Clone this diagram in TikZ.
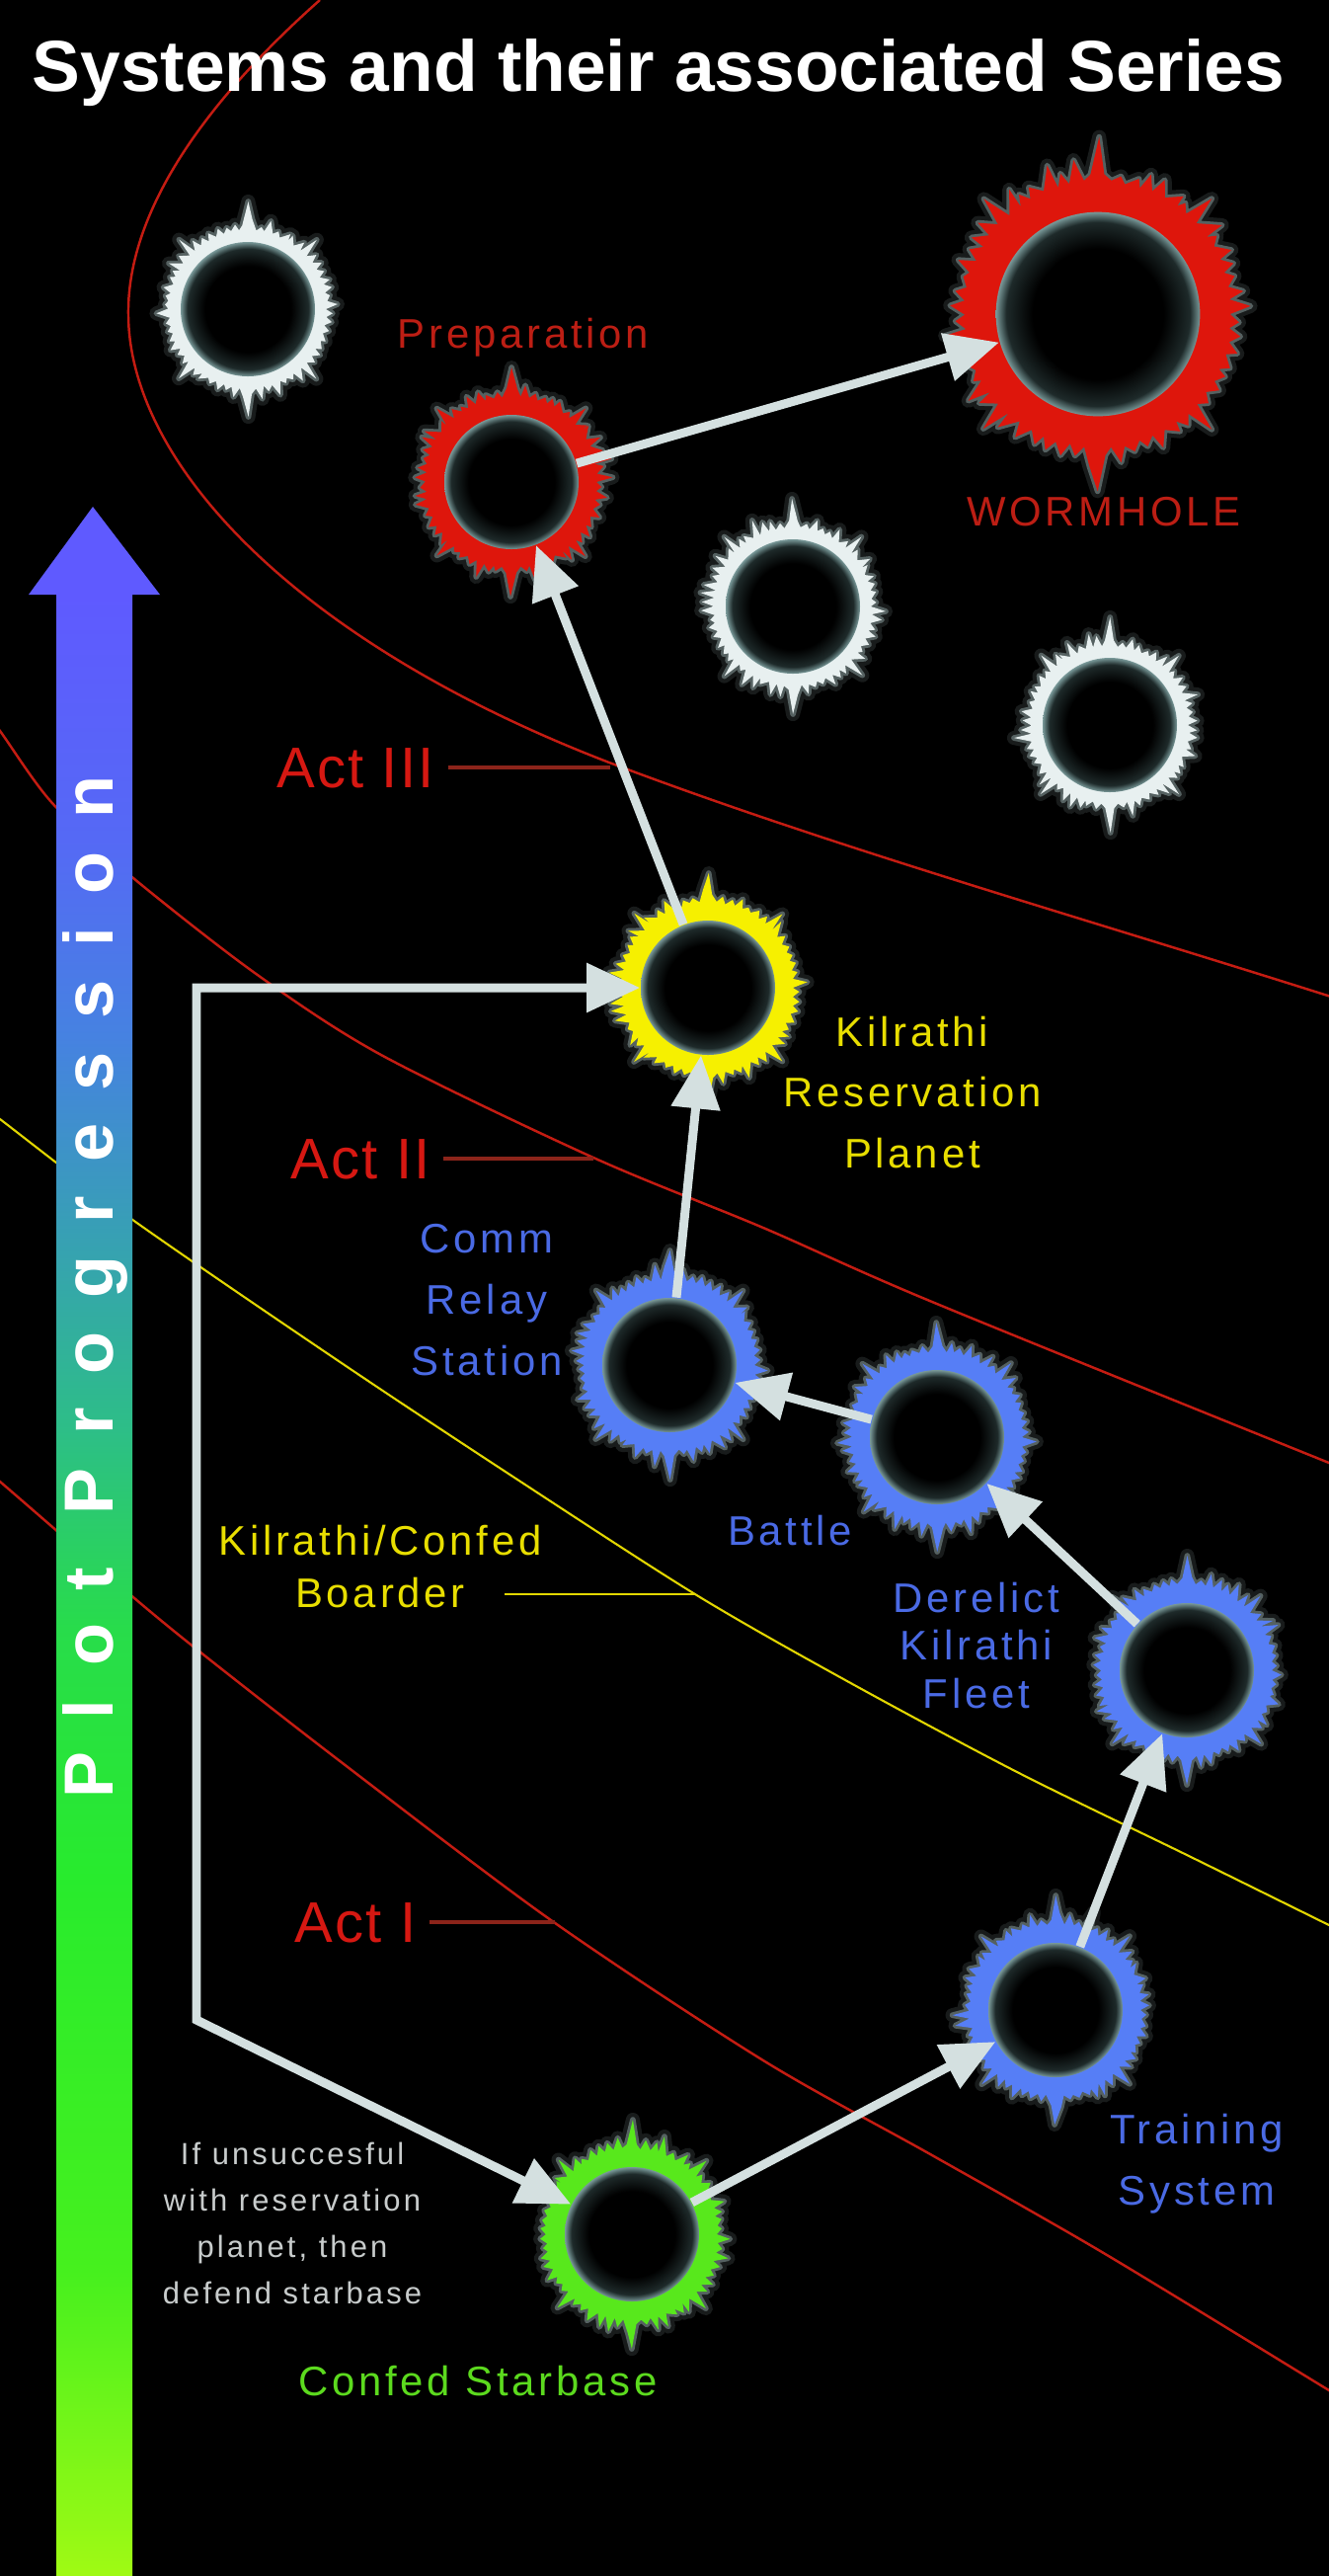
\documentclass[tikz,border=0pt]{standalone}
\usepackage{fontspec}
\setmainfont{Liberation Sans}
\newfontfamily\labelfont[LetterSpace=9]{Liberation Sans}
\newfontfamily\notefont[LetterSpace=10]{Liberation Sans}
\newfontfamily\actfont[LetterSpace=4]{Liberation Sans}
\newfontfamily\barfont[LetterSpace=48]{Liberation Sans}
\usetikzlibrary{arrows.meta}

\definecolor{ringred}{RGB}{222,22,12}
\definecolor{ringyellow}{RGB}{246,240,0}
\definecolor{ringblue}{RGB}{86,126,246}
\definecolor{ringgreen}{RGB}{88,232,28}
\definecolor{ringwhite}{RGB}{232,240,240}
\definecolor{halo}{RGB}{200,228,228}
\definecolor{corerim}{RGB}{120,152,152}
\definecolor{coredark}{RGB}{30,42,42}
\definecolor{orbitred}{RGB}{196,28,18}
\definecolor{orbityellow}{RGB}{226,214,0}
\definecolor{actred}{RGB}{214,24,18}
\definecolor{actmark}{RGB}{140,36,26}
\definecolor{linkgray}{RGB}{212,224,224}
\definecolor{lblred}{RGB}{188,30,20}
\definecolor{lblyellow}{RGB}{232,222,0}
\definecolor{lblblue}{RGB}{74,106,228}
\definecolor{lblgreen}{RGB}{92,218,30}
\definecolor{notegray}{RGB}{200,204,204}
\definecolor{bar0}{RGB}{160,250,20}
\definecolor{bar1}{RGB}{70,240,30}
\definecolor{bar2}{RGB}{40,235,45}
\definecolor{bar3}{RGB}{40,220,75}
\definecolor{bar4}{RGB}{45,190,135}
\definecolor{bar5}{RGB}{55,160,180}
\definecolor{bar6}{RGB}{70,130,225}
\definecolor{bar7}{RGB}{85,105,245}
\definecolor{bar8}{RGB}{95,90,255}

\pgfdeclareradialshading{coreglow}{\pgfpoint{0bp}{0bp}}{color(0bp)=(black); color(16bp)=(black); color(22.5bp)=(coredark); color(25bp)=(corerim); color(50bp)=(corerim)}
\pgfdeclareverticalshading{plotbar}{100bp}{color(0bp)=(bar0); color(25bp)=(bar0); color(32.7bp)=(bar1); color(42.6bp)=(bar2); color(48.9bp)=(bar3); color(53.9bp)=(bar4); color(58.8bp)=(bar5); color(63.8bp)=(bar6); color(68.8bp)=(bar7); color(75bp)=(bar8); color(100bp)=(bar8)}

\tikzset{systip/.tip={Triangle[length=5.4mm,width=4.8mm]}}

\newcommand\starsys[6]{%
  \begin{scope}[shift={#2},scale=#4]
    \pgfmathsetseed{#5}
    \path[fill=#3,
      preaction={draw=halo,line width=4pt,opacity=.12,line join=round},
      preaction={draw=halo,line width=1.6pt,opacity=.35,line join=round}]
      (0:#6) \foreach \ang in {3,6,...,357}{
        -- ({\ang+rnd-0.5}:{(\ang==90||\ang==270) ? #6+30 : ((\ang==45||\ang==135||\ang==225||\ang==315) ? #6+20 : (mod(\ang,6)==0 ? #6+2*rnd : #6+5+17*rnd*rnd))})
      } -- cycle;
    \shade[shading=coreglow] (0,0) circle (68);
  \end{scope}
  \node[sysnode,minimum size=#4*1.36cm] (#1) at #2 {};
}

\begin{document}
\begin{tikzpicture}[x=0.01cm,y=-0.01cm,
  sysnode/.style={circle,inner sep=0pt},
  syslabel/.style={font=\labelfont\fontsize{11.9}{17.6}\selectfont,align=center,inner sep=0pt},
  notelbl/.style={font=\notefont\fontsize{8.8}{13.4}\selectfont,align=center,inner sep=0pt,text=notegray},
  actlabel/.style={font=\actfont\fontsize{16.5}{20}\selectfont,text=actred,inner sep=0pt,anchor=base},
  actline/.style={draw=actmark,line width=1.1pt,shorten <=0.13cm},
  orbit/.style={draw=orbitred,line width=0.7pt},
  boarder/.style={draw=orbityellow,line width=0.6pt},
  link/.style={draw=linkgray,line width=2.55pt,-systip}]
\useasboundingbox (0,0) rectangle (1346,2608);
\fill[black] (0,0) rectangle (1346,2608);

\begin{scope}
\clip (0,0) rectangle (1346,2608);
\draw[orbit] (324,0) .. controls (200,110) and (128,220) .. (130,320)
  .. controls (132,470) and (300,650) .. (617,772)
  .. controls (850,860) and (1100,930) .. (1370,1016);
\draw[orbit] plot[smooth] coordinates {(-30,700) (0,740) (52,812) (129,884) (258,985) (386,1068) (601,1172) (773,1243) (944,1318) (1346,1481) (1370,1490)};
\draw[boarder] plot[smooth] coordinates {(-30,1110) (0,1133) (133,1234) (343,1378) (515,1492) (704,1614) (858,1702) (1030,1794) (1202,1878) (1346,1949) (1370,1961)};
\draw[orbit] plot[smooth] coordinates {(-30,1475) (0,1500) (52,1545) (129,1612) (197,1668) (343,1782) (558,1944) (773,2086) (944,2182) (1116,2280) (1346,2420) (1370,2434)};
\end{scope}

\shade[shading=plotbar] (57,600) rectangle (134,2608);
\fill[bar8] (94,513) -- (162,602) -- (29,602) -- cycle;
\node[rotate=90,font=\barfont\bfseries\fontsize{20}{24}\selectfont,text=white,inner sep=0pt] (plotlbl) at (96,1303) {Plot Progression};

\node[font=\bfseries\fontsize{20.8}{25}\selectfont,text=white,anchor=base,inner sep=0pt] (title) at (667,92) {Systems and their associated Series};

\starsys{sysA}{(251,313)}{ringwhite}{1}{11}{79}
\starsys{sysB}{(803,614)}{ringwhite}{1}{23}{79}
\starsys{sysC}{(1124,734)}{ringwhite}{1}{37}{79}
\starsys{prep}{(518,488)}{ringred}{1}{41}{86}
\starsys{wormhole}{(1112,318)}{ringred}{1.52}{53}{88}
\starsys{resv}{(717,1000)}{ringyellow}{1}{67}{86}
\starsys{comm}{(678,1382)}{ringblue}{1}{71}{86}
\starsys{battle}{(949,1455)}{ringblue}{1}{83}{86}
\starsys{derelict}{(1202,1691)}{ringblue}{1}{97}{86}
\starsys{training}{(1069,2035)}{ringblue}{1}{101}{86}
\starsys{starbase}{(640,2262)}{ringgreen}{1}{113}{86}

\node[syslabel,text=lblred,anchor=base] (preplbl) at (530,352) {Preparation};
\node[syslabel,text=lblred,anchor=base] (wormlbl) at (1118,532) {WORMHOLE};
\node[syslabel,text=lblyellow] (resvlbl) at (924,1106) {Kilrathi\\Reservation\\Planet};
\node[syslabel,text=lblblue] (commlbl) at (493,1316) {Comm\\Relay\\Station};
\node[syslabel,text=lblblue,anchor=base] (battlelbl) at (800,1564) {Battle};
\node[syslabel,text=lblblue,font=\labelfont\fontsize{11.9}{13.9}\selectfont] (derelictlbl) at (989,1666) {Derelict\\Kilrathi\\Fleet};
\node[syslabel,text=lblyellow,font=\labelfont\fontsize{11.9}{14.8}\selectfont] (boarderlbl) at (385,1586) {Kilrathi/Confed\\Boarder};
\node[syslabel,text=lblblue] (traininglbl) at (1212,2191) {Training\\System};
\node[syslabel,text=lblgreen,anchor=base] (starbaselbl) at (484,2425) {Confed Starbase};
\node[notelbl] (notelbl) at (296,2251) {If unsuccesful\\with reservation\\planet, then\\defend starbase};

\node[actlabel] (act3) at (360,797) {Act III};
\node[actlabel] (act2) at (365,1193) {Act II};
\node[actlabel] (act1) at (360,1966) {Act I};
\coordinate (act3end) at (618,775);
\coordinate (act2end) at (601,1174);
\coordinate (act1end) at (562,1947);
\draw[actline] (act3.east) -- (act3.east -| act3end);
\draw[actline] (act2.east) -- (act2.east -| act2end);
\draw[actline] (act1.east) -- (act1.east -| act1end);
\coordinate (boarderstart) at (511,1614);
\coordinate (boarderend) at (704,1614);
\draw[boarder] (boarderstart) -- (boarderend);

\coordinate (loopbend) at (199,2045);
\draw[link] (starbase) -- (training);
\draw[link] (training) -- (derelict);
\draw[link] (derelict) -- (battle);
\draw[link] (battle) -- (comm);
\draw[link] (comm) -- (resv);
\draw[link] (resv) -- (prep);
\draw[link] (prep) -- (wormhole);
\draw[link,systip-systip] (starbase) -- (loopbend) |- (resv);
\end{tikzpicture}
\end{document}
